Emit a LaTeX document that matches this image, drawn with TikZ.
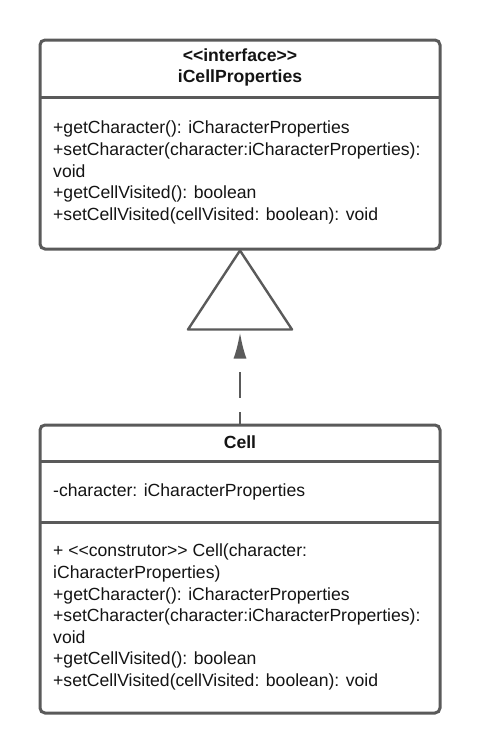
\documentclass[tikz,border=0pt]{standalone}
\usepackage{fontspec}
\setmainfont{Liberation Sans}
\usetikzlibrary{arrows.meta,positioning}
\definecolor{umlline}{RGB}{90,90,90}
\definecolor{umltext}{RGB}{20,20,20}
\tikzset{
  classbox/.style={draw=umlline, line width=3pt, rounded corners=5pt, fill=white, minimum width=400pt, inner sep=0pt},
  compart/.style={minimum width=400pt, inner sep=0pt, anchor=north},
  divider/.style={draw=umlline, line width=3pt},
  members/.style={anchor=north west, align=left, inner sep=0pt, text=umltext, font=\fontsize{17.6}{21.6}\selectfont},
  classname/.style={align=center, inner sep=0pt, text=umltext, font=\bfseries\fontsize{17.6}{21}\selectfont},
  realize/.style={draw=umlline, line width=2pt, dash pattern=on 26pt off 14pt, dash phase=14pt, shorten >=3pt, -{Latex[length=26pt,width=13pt]}},
}
\begin{document}
\begin{tikzpicture}[x=1pt,y=-1pt]
    \useasboundingbox (0,0) rectangle (480,753);
    % interface
    \node[classbox, minimum height=209pt] (iface) at (240,144.5) {};
    \node[compart, minimum height=59pt] (ifacehead) at (iface.north) {};
    \draw[divider] (ifacehead.south west) -- (ifacehead.south east);
    \node[classname, anchor=north] (ifacename) at (240,49) {<{}<interface>{}>\\iCellProperties};
    \node[members] (ifaceops) at (53,121) {+getCharacter(): iCharacterProperties\\
        +setCharacter(character:iCharacterProperties):\\
        void\\
        +getCellVisited(): boolean\\
        +setCellVisited(cellVisited: boolean): void};
    % class
    \node[classbox, minimum height=288pt] (cell) at (240,569) {};
    \node[compart, minimum height=38pt] (cellhead) at (cell.north) {};
    \node[compart, minimum height=60pt] (cellattr) at (cellhead.south) {};
    \draw[divider] (cellhead.south west) -- (cellhead.south east);
    \draw[divider] (cellattr.south west) -- (cellattr.south east);
    \node[classname, anchor=base] (cellname) at (240,448.5) {Cell};
    \node[members] (cellattrs) at (53,484) {-character: iCharacterProperties};
    \node[members] (cellops) at (53,544) {+ <{}<construtor>{}> Cell(character:\\
        iCharacterProperties)\\
        +getCharacter(): iCharacterProperties\\
        +setCharacter(character:iCharacterProperties):\\
        void\\
        +getCellVisited(): boolean\\
        +setCellVisited(cellVisited: boolean): void};
    % realization
    \draw[umlline, line width=2.4pt, fill=white, line join=round] (iface.south) -- ++(52,79) -- ++(-104,0) -- cycle;
    \path (iface.south) ++(0,79) coordinate (hollow);
    \draw[realize] (cell.north) -- (hollow);
\end{tikzpicture}
\end{document}
